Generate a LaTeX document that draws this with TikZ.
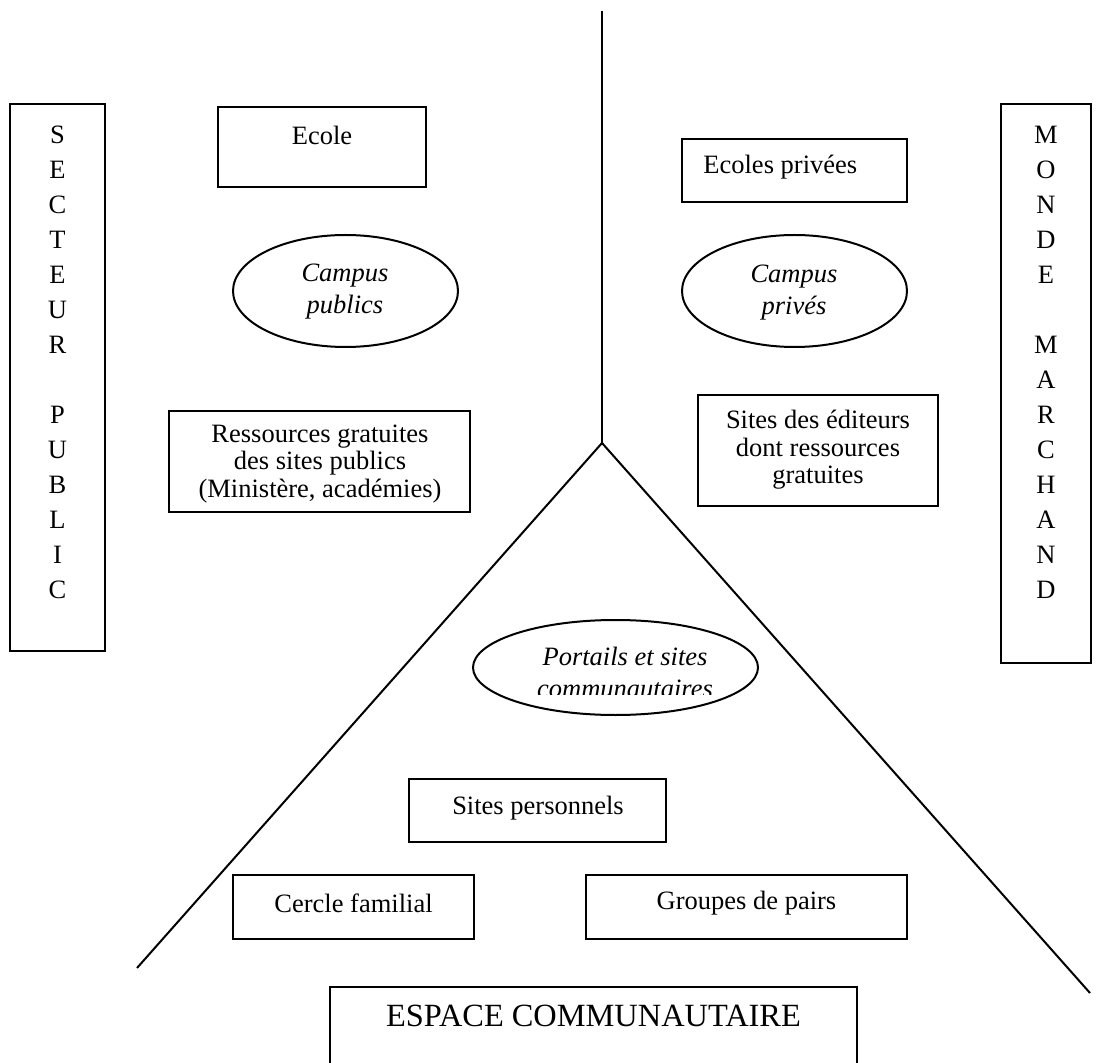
\documentclass[tikz,border=0pt]{standalone}
\usepackage{fontspec}
\setmainfont{Liberation Serif}
\usetikzlibrary{shapes.geometric}
\begin{document}
\begin{tikzpicture}[x=0.5pt,y=-0.5pt,
  box/.style={draw,line width=1pt,rectangle,inner sep=0pt},
  oval/.style={draw,line width=1pt,ellipse,inner sep=0pt},
  txt/.style={inner sep=0pt,align=center,font=\fontsize{13.25}{14}\selectfont},
  itxt/.style={txt,font=\fontsize{13.25}{16}\selectfont\itshape},
  vtxt/.style={inner sep=0pt,align=center,font=\fontsize{13.25}{17.5}\selectfont},
  ln/.style={line width=1pt}]
\useasboundingbox (0,0) rectangle (1102,1063);
\fill[white] (0,0) rectangle (1102,1063);

% side boxes
\node[box,minimum width=47.5pt,minimum height=273.5pt] (sp) at (57.5,377.5) {};
\node[vtxt] (sptxt) at (57.5,362) {S\\E\\C\\T\\E\\U\\R\\\mbox{}\\P\\U\\B\\L\\I\\C};
\node[box,minimum width=45pt,minimum height=279.5pt] (mm) at (1046,383.5) {};
\node[vtxt] (mmtxt) at (1046,362) {M\\O\\N\\D\\E\\\mbox{}\\M\\A\\R\\C\\H\\A\\N\\D};

% dividing lines
\coordinate (top) at (602,11);
\coordinate (junc) at (602,443);
\coordinate (lend) at (137,968);
\coordinate (rend) at (1090,993);
\draw[ln] (top) -- (junc);
\draw[ln] (junc) -- (lend);
\draw[ln] (junc) -- (rend);

% public side
\node[box,minimum width=104pt,minimum height=40pt] (ecole) at (322,147) {};
\node[txt] (ecoletxt) at (322,135) {Ecole};
\node[oval,minimum width=112.5pt,minimum height=56pt] (campub) at (345.5,291) {};
\node[itxt] (campubtxt) at (345,292) {Campus\\publics};
\node[box,minimum width=150.5pt,minimum height=50.5pt] (ress) at (319.5,461.5) {};
\node[txt,font=\fontsize{13.25}{13.75}\selectfont] (resstxt) at (320,464) {Ressources gratuites\\des sites publics\\(Minist\`ere, acad\'emies)};

% private side
\node[box,minimum width=112.5pt,minimum height=31.5pt] (ecpriv) at (794.5,170.5) {};
\node[txt,anchor=west] (ecprivtxt) at (703,167) {Ecoles priv\'ees};
\node[oval,minimum width=112.5pt,minimum height=56pt] (campriv) at (794.5,291) {};
\node[itxt] (camprivtxt) at (794,293) {Campus\\priv\'es};
\node[box,minimum width=120pt,minimum height=55.5pt] (edit) at (818,450.5) {};
\node[txt,font=\fontsize{13.25}{13.75}\selectfont] (edittxt) at (818,450) {Sites des \'editeurs\\dont ressources\\gratuites};

% community
\begin{scope}
\clip (470,600) rectangle (770,694);
\node[itxt] (portxt) at (625,672) {Portails et sites\\communautaires};
\end{scope}
\node[oval,minimum width=142.5pt,minimum height=47.5pt] (portails) at (615.5,667.5) {};
\node[box,minimum width=128.5pt,minimum height=31.5pt] (perso) at (537.5,810.5) {};
\node[txt] (persotxt) at (538,808) {Sites personnels};
\node[box,minimum width=120.5pt,minimum height=32pt] (cercle) at (353.5,907) {};
\node[txt] (cercletxt) at (353.5,903) {Cercle familial};
\node[box,minimum width=160.5pt,minimum height=32pt] (groupes) at (746.5,907) {};
\node[txt] (groupestxt) at (746.5,903) {Groupes de pairs};

\node[box,minimum width=263.5pt,minimum height=56.5pt] (espace) at (593.5,1043.5) {};
\node[inner sep=0pt,font=\fontsize{16.2}{19}\selectfont] (espacetxt) at (593.5,1016) {ESPACE COMMUNAUTAIRE};
\end{tikzpicture}
\end{document}
